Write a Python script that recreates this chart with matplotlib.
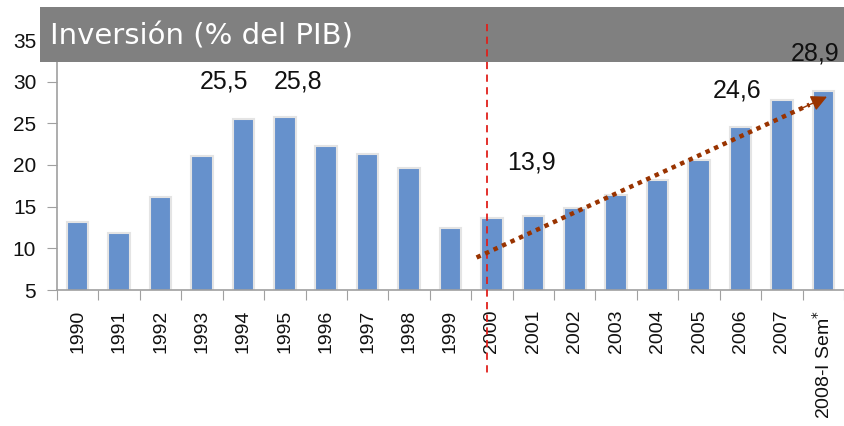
import numpy as np
import matplotlib
matplotlib.use("Agg")
import matplotlib.pyplot as plt
from matplotlib.patches import Rectangle

years = ["1990", "1991", "1992", "1993", "1994", "1995", "1996", "1997", "1998",
         "1999", "2000", "2001", "2002", "2003", "2004", "2005", "2006", "2007",
         "2008-I Sem$^{*}$"]
inversion = [13.2, 11.8, 16.2, 21.1, 25.5, 25.8, 22.3, 21.3, 19.6,
             12.5, 13.6, 13.9, 14.8, 16.4, 18.2, 20.6, 24.6, 27.8, 28.9]

# manually placed labels (x in category units, y in % del PIB)
label_text = ["25,5", "25,8", "13,9", "24,6", "28,9"]
label_x = [3.52, 5.33, 10.95, 15.93, 17.79]
label_y = [30.0, 30.0, 20.3, 28.9, 33.35]

trend_start = (9.63, 8.9)
trend_end = (18.09, 28.2)
split_x = 9.87

plt.rcParams["font.family"] = ["Liberation Sans", "DejaVu Sans"]

fig = plt.figure(figsize=(8.44, 4.26), dpi=100)
ax = fig.add_axes([57 / 844, 1 - 290 / 426, 787 / 844, 250 / 426])

x = np.arange(len(years))
ax.bar(x, inversion, width=0.52, bottom=0, color="#6691CC",
       edgecolor="#E4E4E4", linewidth=1.5, zorder=2)
ax.set_xlim(-0.5, len(years) - 0.5)
ax.set_ylim(5, 35)
ax.set_yticks(np.arange(5, 36, 5))
ax.tick_params(axis="y", direction="out", length=7, color="#A0A0A0",
               labelsize=15, pad=8, labelcolor="#111111")

# ticks between categories, labels in the middle
ax.set_xticks(np.arange(-0.5, len(years), 1))
ax.set_xticklabels([])
ax.tick_params(axis="x", which="major", direction="out", length=7, color="#A0A0A0")
ax.set_xticks(x, minor=True)
ax.set_xticklabels(years, minor=True, rotation=90, fontsize=14, color="#111111")
ax.tick_params(axis="x", which="minor", length=0, pad=14)

for side in ["top", "right"]:
    ax.spines[side].set_visible(False)
for side in ["left", "bottom"]:
    ax.spines[side].set_color("#A0A0A0")
    ax.spines[side].set_linewidth(1.2)

# gray title band
ax.add_artist(Rectangle((40 / 844, 1 - 62 / 426), 804 / 844, 55 / 426,
                        transform=fig.transFigure, facecolor="#808080",
                        edgecolor="none", clip_on=False, zorder=3))
ax.text(50 / 844, 1 - 37 / 426, "Inversión (% del PIB)", transform=fig.transFigure,
        color="white", fontsize=21, fontfamily="DejaVu Sans", va="center",
        ha="left", zorder=4)

# vertical split line
ax.plot([split_x, split_x], [36.9, -5.0], color="#E0201B", linestyle=(0, (4, 3)),
        linewidth=1.3, clip_on=False, zorder=5)

# dotted trend arrow
dx = trend_end[0] - trend_start[0]
dy = trend_end[1] - trend_start[1]
ax.plot([trend_start[0], trend_start[0] + 0.95 * dx],
        [trend_start[1], trend_start[1] + 0.95 * dy],
        color="#993300", linestyle=(0, (1, 1.1)), linewidth=3.2,
        dash_capstyle="butt", zorder=5)
ax.annotate("", xy=trend_end,
            xytext=(trend_start[0] + 0.93 * dx, trend_start[1] + 0.93 * dy),
            arrowprops=dict(arrowstyle="-|>", color="#993300", lw=1,
                            mutation_scale=24, shrinkA=0, shrinkB=0),
            zorder=5)

for txt, lx, ly in zip(label_text, label_x, label_y):
    ax.text(lx, ly, txt, ha="center", va="center", fontsize=18,
            color="#111111", zorder=6)

fig.savefig("out.png", dpi=100)
